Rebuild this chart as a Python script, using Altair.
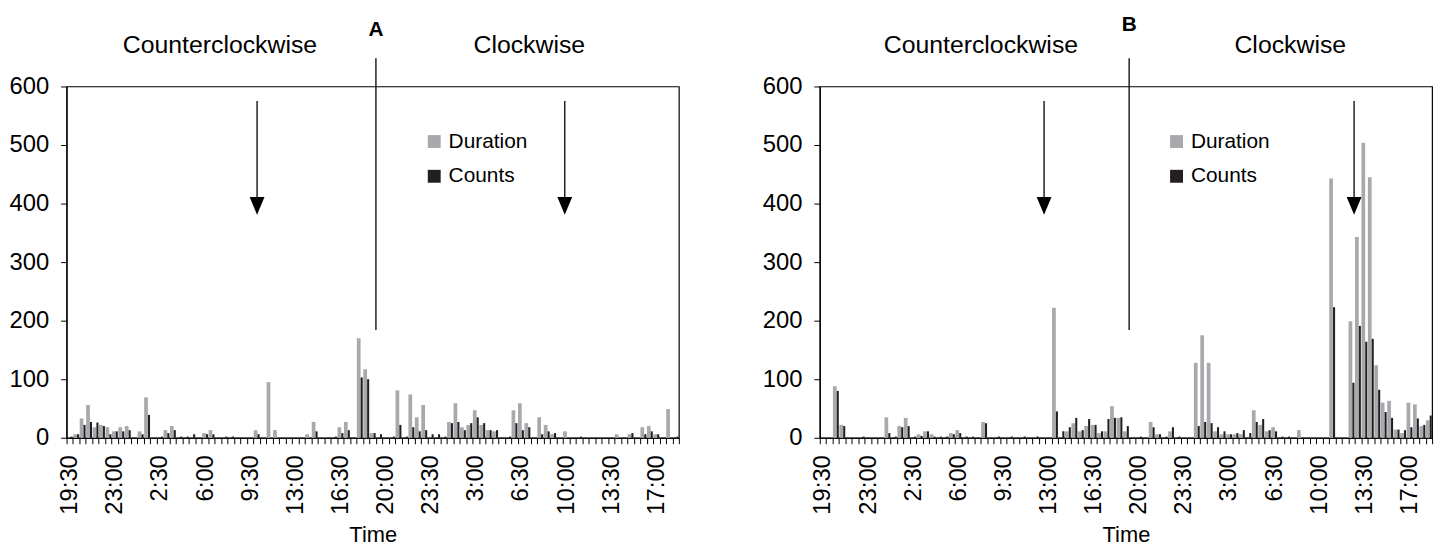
import json
import altair as alt
import pandas as pd

# ---------------- data ----------------
n_slots = 95          # half-hour slots, first slot 19:30
label_step = 7        # a label every 3.5 h
tick_labels = ["19:30", "23:00", "2:30", "6:00", "9:30", "13:00", "16:30",
               "20:00", "23:30", "3:00", "6:30", "10:00", "13:30", "17:00"]
series_names = ["Duration", "Counts"]
series_colors = ["#a7a9ac", "#231f20"]

a_duration = [0, 6, 33, 56, 18, 22, 18, 11, 18, 20,
              0, 11, 69, 0, 0, 13, 20, 0, 0, 0,
              0, 8, 13, 0, 0, 0, 0, 0, 0, 13,
              0, 95, 13, 0, 0, 0, 0, 6, 27, 0,
              0, 0, 18, 27, 0, 170, 117, 8, 0, 0,
              0, 81, 0, 74, 35, 56, 0, 0, 0, 27,
              59, 18, 22, 47, 22, 13, 11, 0, 0, 47,
              59, 25, 0, 35, 22, 6, 0, 11, 0, 0,
              0, 0, 0, 0, 0, 6, 0, 6, 0, 18,
              20, 6, 0, 49, 0]
a_counts = [2, 6, 22, 27, 26, 20, 6, 11, 11, 13,
            0, 6, 39, 0, 2, 8, 13, 2, 2, 6,
            0, 6, 6, 0, 2, 2, 0, 0, 0, 6,
            0, 0, 0, 0, 0, 0, 0, 0, 11, 0,
            0, 2, 8, 13, 0, 103, 100, 8, 6, 0,
            2, 22, 2, 18, 11, 13, 6, 6, 2, 25,
            27, 13, 25, 35, 25, 13, 13, 0, 2, 25,
            13, 18, 0, 6, 11, 8, 0, 0, 0, 2,
            0, 0, 0, 0, 0, 0, 0, 8, 0, 6,
            11, 6, 0, 0, 2]
b_duration = [0, 0, 88, 22, 0, 0, 0, 0, 0, 0,
              35, 0, 20, 34, 0, 6, 11, 6, 0, 0,
              8, 13, 0, 0, 0, 27, 0, 0, 0, 0,
              0, 0, 0, 0, 0, 0, 222, 0, 11, 25,
              11, 20, 22, 8, 11, 54, 34, 11, 0, 0,
              0, 27, 6, 0, 11, 0, 0, 0, 128, 175,
              128, 11, 6, 6, 6, 6, 0, 47, 22, 11,
              18, 0, 0, 0, 13, 0, 0, 0, 0, 443,
              0, 0, 199, 343, 504, 445, 124, 60, 63, 14,
              8, 60, 57, 20, 30]
b_counts = [0, 0, 80, 20, 0, 0, 2, 0, 0, 0,
            8, 2, 18, 20, 2, 3, 11, 2, 2, 2,
            6, 8, 2, 2, 0, 25, 0, 2, 0, 2,
            0, 2, 0, 2, 0, 0, 45, 11, 18, 34,
            13, 32, 22, 11, 32, 34, 35, 20, 0, 2,
            0, 18, 6, 2, 18, 2, 0, 0, 20, 27,
            25, 18, 11, 6, 8, 13, 8, 27, 32, 13,
            11, 2, 2, 0, 0, 0, 0, 0, 0, 223,
            0, 0, 94, 191, 164, 169, 82, 44, 34, 14,
            13, 18, 33, 22, 38]

FONT = "Liberation Sans"
PANEL_W, PANEL_H = 617, 354

label_expr = ("datum.value % {s} == 0 ? {arr}[datum.value / {s}] : ''"
              .format(s=label_step, arr=json.dumps(tick_labels).replace('"', "'")))

ARROW_PATH = "M-0.83,-1L0.83,-1L0,1Z"


def split(pos):
    s = int(pos)
    return s, round(pos - s, 3)


def panel(letter, duration, counts, letter_y, arrow_pos, ccw_pos, cw_pos, legend_x):
    df = pd.DataFrame({
        "slot": list(range(n_slots)) * 2,
        "series": [series_names[0]] * n_slots + [series_names[1]] * n_slots,
        "value": duration + counts,
    })
    x_scale = alt.Scale(domain=list(range(n_slots)), paddingInner=0, paddingOuter=0)
    x_axis = alt.Axis(title="Time", labelExpr=label_expr, labelAngle=270,
                      labelAlign="right", labelBaseline="middle",
                      labelOverlap=False, tickBand="extent", tickSize=6,
                      labelPadding=11, labelFontSize=24, titleFontSize=22,
                      titleFontWeight="normal", titlePadding=10)
    y_scale = alt.Scale(domain=[0, 600])
    y_axis = alt.Axis(title=None, values=[0, 100, 200, 300, 400, 500, 600],
                      grid=False, tickSize=6, labelPadding=12, labelFontSize=24)

    def xe(pos):
        s, bp = split(pos)
        return alt.X("slot:O", scale=x_scale, axis=x_axis, bandPosition=bp), s

    x_enc = alt.X("slot:O", scale=x_scale, axis=x_axis)
    y_enc = alt.Y("value:Q", scale=y_scale, axis=y_axis)

    color = alt.Color("series:N",
                      scale=alt.Scale(domain=series_names, range=series_colors),
                      legend=alt.Legend(title=None, orient="none",
                                        legendX=legend_x, legendY=45,
                                        symbolType="square", symbolSize=169,
                                        symbolStrokeWidth=0, labelFontSize=21,
                                        labelFont=FONT, rowPadding=13,
                                        labelOffset=4, padding=0,
                                        labelColor="black"))

    base = alt.Chart(df).encode(x=x_enc, y=y_enc, color=color)
    gray = base.transform_filter(alt.datum.series == series_names[0]).mark_bar(
        width=alt.RelativeBandSize(0.58), xOffset=-1.1)
    black = base.transform_filter(alt.datum.series == series_names[1]).mark_bar(
        width=alt.RelativeBandSize(0.32), xOffset=1.9)
    layers = [gray, black]

    # switch of rotation direction (after 24 h)
    xd, sd = xe(48.0)
    layers.append(alt.Chart(pd.DataFrame({"slot": [sd], "value": [184], "value2": [648]}))
                  .mark_rule(color="black", strokeWidth=1.3)
                  .encode(x=xd, y=y_enc, y2="value2:Q"))
    layers.append(alt.Chart(pd.DataFrame({"slot": [sd], "value": [letter_y], "text": [letter]}))
                  .mark_text(font=FONT, fontSize=21, fontWeight="bold", color="black",
                             baseline="alphabetic", align="center")
                  .encode(x=xd, y=y_enc, text="text:N"))

    # arrows
    for pos in arrow_pos:
        xa, sa = xe(pos)
        adf = pd.DataFrame({"slot": [sa], "value": [575], "value2": [400], "head": [396]})
        layers.append(alt.Chart(adf).mark_rule(color="black", strokeWidth=1.3)
                      .encode(x=xa, y=y_enc, y2="value2:Q"))
        layers.append(alt.Chart(adf).mark_point(shape=ARROW_PATH, filled=True, size=324,
                                                color="black", opacity=1, strokeWidth=0)
                      .encode(x=xa, y=alt.Y("head:Q", scale=y_scale, axis=y_axis)))

    # direction labels
    for pos, txt in [(ccw_pos, "Counterclockwise"), (cw_pos, "Clockwise")]:
        xt, st = xe(pos)
        layers.append(alt.Chart(pd.DataFrame({"slot": [st], "value": [657], "text": [txt]}))
                      .mark_text(font=FONT, fontSize=25, color="black",
                                 baseline="alphabetic", align="center")
                      .encode(x=xt, y=y_enc, text="text:N"))

    return alt.layer(*layers).properties(width=PANEL_W, height=PANEL_H)


chart_a = panel("A", a_duration, a_counts, 687, [29.56, 77.3], 23.8, 71.8, 360)
chart_b = panel("B", b_duration, b_counts, 694, [34.8, 82.9], 25.0, 73.0, 349)

chart = alt.hconcat(chart_a, chart_b, spacing=142, bounds="flush").resolve_scale(
    color="independent"
).configure_view(
    stroke="black", strokeWidth=1.2
).configure_axis(
    labelFont=FONT, titleFont=FONT, domainColor="black", tickColor="black",
    labelColor="black", titleColor="black", domainWidth=1.2, tickWidth=1
).properties(
    padding={"left": 0, "top": 3, "right": 0, "bottom": 0}
)

chart.save("out.html", embed_options={"renderer": "svg", "actions": False})
